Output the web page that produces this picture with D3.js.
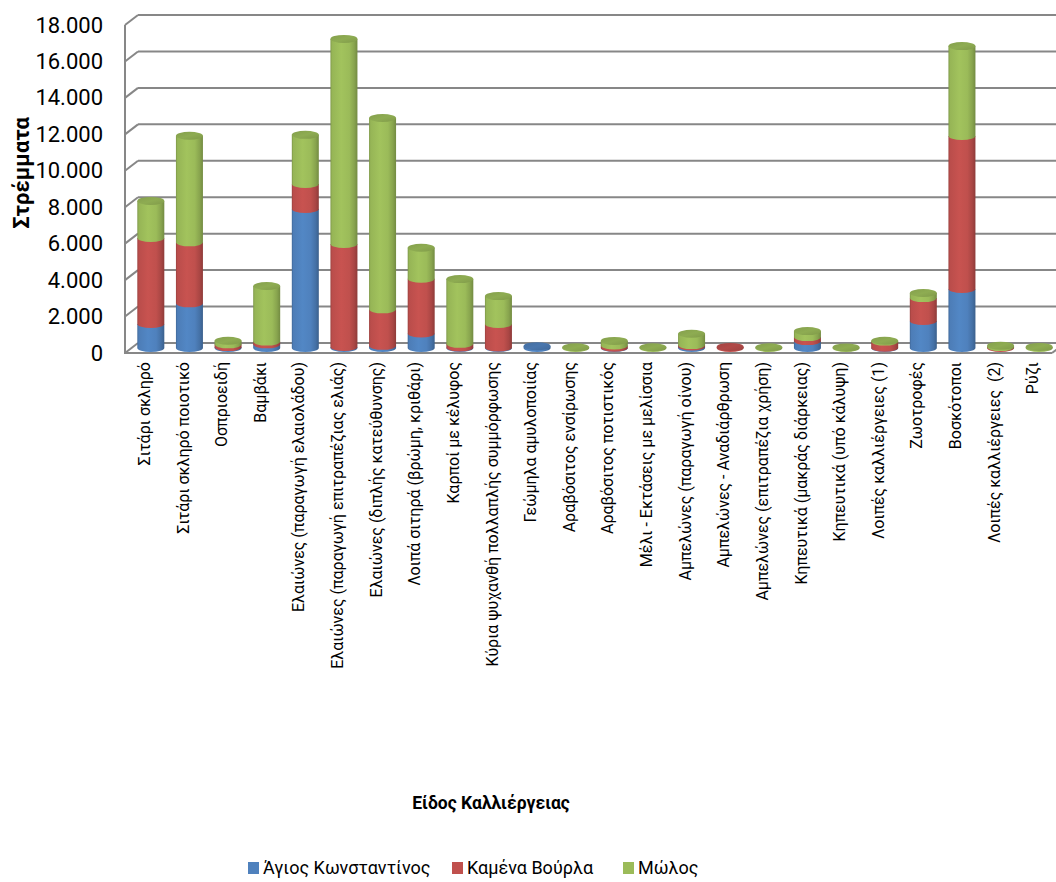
<!DOCTYPE html>
<html>
<head>
<meta charset="utf-8">
<script src="https://cdn.jsdelivr.net/npm/d3@7"></script>
<style>
  html, body { margin: 0; padding: 0; background: #ffffff; }
  svg { display: block; }
  text { font-family: Roboto, "Open Sans", "Noto Sans", sans-serif; fill: #000; }
</style>
</head>
<body>
<div id="chart"></div>
<script>
// Crop types (category axis)
const categories = [
  "Σιτάρι σκληρό",
  "Σιτάρι σκληρό ποιοτικό",
  "Οσπριοειδή",
  "Βαμβάκι",
  "Ελαιώνες (παραγωγή ελαιολάδου)",
  "Ελαιώνες (παραγωγή επιτραπέζιας ελιάς)",
  "Ελαιώνες (διπλής κατεύθυνσης)",
  "Λοιπά σιτηρά (βρώμη, κριθάρι)",
  "Καρποί με κέλυφος",
  "Κύρια ψυχανθή πολλαπλής συμμόρφωσης",
  "Γεώμηλα αμυλοποιίας",
  "Αραβόσιτος ενσίρωσης",
  "Αραβόσιτος ποτιστικός",
  "Μέλι - Εκτάσεις με μελίσσια",
  "Αμπελώνες (παραγωγή οίνου)",
  "Αμπελώνες - Αναδιάρθρωση",
  "Αμπελώνες (επιτραπέζια χρήση)",
  "Κηπευτικά (μακράς διάρκειας)",
  "Κηπευτικά (υπό κάλυψη)",
  "Λοιπές καλλιέργειες (1)",
  "Ζωοτροφές",
  "Βοσκότοποι",
  "Λοιπές καλλιέργειες  (2)",
  "Ρύζι"
];

// Area in stremmata per municipal unit
const seriesNames = ["Άγιος Κωνσταντίνος", "Καμένα Βούρλα", "Μώλος"];
const agiosKonstantinos = [1320, 2450, 50, 200, 7630, 60, 120, 800, 30, 30, 100, 0, 20, 0, 80, 0, 0, 380, 0, 20, 1480, 3240, 0, 0];
const kamenaVourla      = [4720, 3350, 150, 150, 1370, 5650, 2000, 3000, 200, 1290, 0, 0, 120, 0, 80, 60, 0, 220, 0, 330, 1260, 8400, 50, 0];
const molos             = [2030, 5850, 200, 3050, 2700, 11250, 10500, 1700, 3550, 1530, 0, 40, 250, 40, 620, 0, 40, 330, 30, 50, 280, 4930, 80, 60];

const yTicks = [0, 2000, 4000, 6000, 8000, 10000, 12000, 14000, 16000, 18000];
const seriesColors = ["#4f81bd", "#c0504d", "#9bbb59"];

const W = 1056, H = 882;
// front plane of the 3D plot box and its depth offset
const front = { left: 125, right: 1052, bottom: 353, top: 25 };
const depth = { dx: 13, dy: -10 };
const barW = 27, ry = 4;

const svg = d3.select("#chart").append("svg")
  .attr("width", W).attr("height", H);

const x = d3.scaleBand().domain(categories).range([front.left, front.right]);
const y = d3.scaleLinear().domain([0, 18000]).range([front.bottom, front.top]);

const grid = "#878787";

// ---- gradients for the cylinders
const defs = svg.append("defs");
function shade(c, k) {
  return k < 1 ? d3.rgb(c).darker((1 - k) * 3).formatHex() : d3.rgb(c).brighter((k - 1) * 3).formatHex();
}
seriesColors.forEach((c, i) => {
  const g = defs.append("linearGradient").attr("id", "body" + i)
    .attr("x1", "0%").attr("x2", "100%").attr("y1", "0%").attr("y2", "0%");
  [[0, 0.8], [0.06, 0.97], [0.4, 1.04], [0.7, 1.0], [0.88, 0.88], [1, 0.72]].forEach(([o, k]) =>
    g.append("stop").attr("offset", o).attr("stop-color", shade(c, k)));
  const t = defs.append("linearGradient").attr("id", "cap" + i)
    .attr("x1", "0%").attr("x2", "100%").attr("y1", "0%").attr("y2", "100%");
  [[0, 0.85], [0.5, 0.92], [1, 0.82]].forEach(([o, k]) =>
    t.append("stop").attr("offset", o).attr("stop-color", shade(c, k)));
});

// ---- walls, floor and gridlines
const wall = svg.append("g");
yTicks.forEach(v => {
  const yf = y(v), yb = y(v) + depth.dy;
  wall.append("line")
    .attr("x1", front.left + depth.dx).attr("x2", front.right + depth.dx + 20)
    .attr("y1", yb).attr("y2", yb)
    .attr("stroke", grid).attr("stroke-width", 2);
  wall.append("line")
    .attr("x1", front.left).attr("x2", front.left + depth.dx)
    .attr("y1", yf).attr("y2", yb)
    .attr("stroke", grid).attr("stroke-width", 2);
});
wall.append("line")
  .attr("x1", front.left).attr("x2", front.left)
  .attr("y1", y(18000)).attr("y2", y(0) + 1)
  .attr("stroke", grid).attr("stroke-width", 2);
wall.append("line")
  .attr("x1", front.left).attr("x2", front.right)
  .attr("y1", y(0)).attr("y2", y(0))
  .attr("stroke", grid).attr("stroke-width", 2);
wall.append("line")
  .attr("x1", front.right).attr("x2", front.right + depth.dx)
  .attr("y1", y(0)).attr("y2", y(0) + depth.dy)
  .attr("stroke", grid).attr("stroke-width", 2);

// ---- stacked cylinders
const values = [agiosKonstantinos, kamenaVourla, molos];
const rows = categories.map((c, i) => {
  const r = { cat: c };
  seriesNames.forEach((s, j) => r[s] = values[j][i]);
  return r;
});
const stacked = d3.stack().keys(seriesNames)(rows);

const bars = svg.append("g")
  .attr("transform", `translate(${depth.dx / 2},${depth.dy / 2})`);

categories.forEach((c, i) => {
  const cx = x(c) + x.bandwidth() / 2;
  const l = cx - barW / 2, r = cx + barW / 2;
  const g = bars.append("g");
  let topIdx = -1, topVal = 0;
  stacked.forEach((layer, j) => {
    const [v0, v1] = layer[i];
    if (v1 - v0 <= 0) return;
    topIdx = j; topVal = v1;
    const y0 = y(v0), y1 = y(v1);
    g.append("path")
      .attr("d", `M${l},${y1} L${l},${y0} A${barW / 2},${ry} 0 0 0 ${r},${y0} L${r},${y1} Z`)
      .attr("fill", `url(#body${j})`);
  });
  if (topIdx >= 0) {
    g.append("ellipse")
      .attr("cx", cx).attr("cy", y(topVal))
      .attr("rx", barW / 2).attr("ry", ry)
      .attr("fill", `url(#cap${topIdx})`);
  }
});

// ---- value axis labels
const fmt = d3.formatLocale({ decimal: ",", thousands: ".", grouping: [3], currency: ["", "€"] }).format(",d");
const yAxis = svg.append("g")
  .attr("transform", `translate(${front.left - 22},0)`)
  .call(d3.axisLeft(y).tickValues(yTicks).tickFormat(fmt).tickSize(0).tickPadding(0));
yAxis.select(".domain").remove();
yAxis.selectAll("text")
  .style("font-family", 'Roboto, "Open Sans", sans-serif')
  .style("font-size", "22px").attr("fill", "#000");

// ---- category axis labels
const xAxis = svg.append("g")
  .attr("transform", `translate(0,${front.bottom})`)
  .call(d3.axisBottom(x).tickSize(0).tickPadding(0));
xAxis.select(".domain").remove();
xAxis.selectAll("text")
  .attr("transform", "rotate(-90)")
  .attr("x", -9).attr("y", 0).attr("dy", "0.35em")
  .attr("text-anchor", "end")
  .style("white-space", "pre")
  .style("font-family", 'Roboto, "Open Sans", sans-serif')
  .style("font-size", "16px").attr("fill", "#000");

// ---- axis titles
svg.append("text")
  .attr("transform", "translate(21,173) rotate(-90)")
  .attr("text-anchor", "middle").attr("dy", "0.35em")
  .style("font-size", "22px").style("font-weight", "bold")
  .text("Στρέμματα");

svg.append("text")
  .attr("x", 491).attr("y", 803).attr("dy", "0.35em")
  .attr("text-anchor", "middle")
  .style("font-size", "17.5px").style("font-weight", "bold")
  .text("Είδος Καλλιέργειας");

// ---- legend
const legendX = [248, 452, 623];
const legend = svg.append("g");
seriesNames.forEach((s, j) => {
  const lg = legend.append("g").attr("transform", `translate(${legendX[j]},862)`);
  lg.append("rect").attr("width", 11).attr("height", 12).attr("fill", seriesColors[j]);
  lg.append("text").attr("x", 15).attr("y", 6).attr("dy", "0.35em")
    .style("font-size", "18px").text(s);
});
</script>
</body>
</html>
